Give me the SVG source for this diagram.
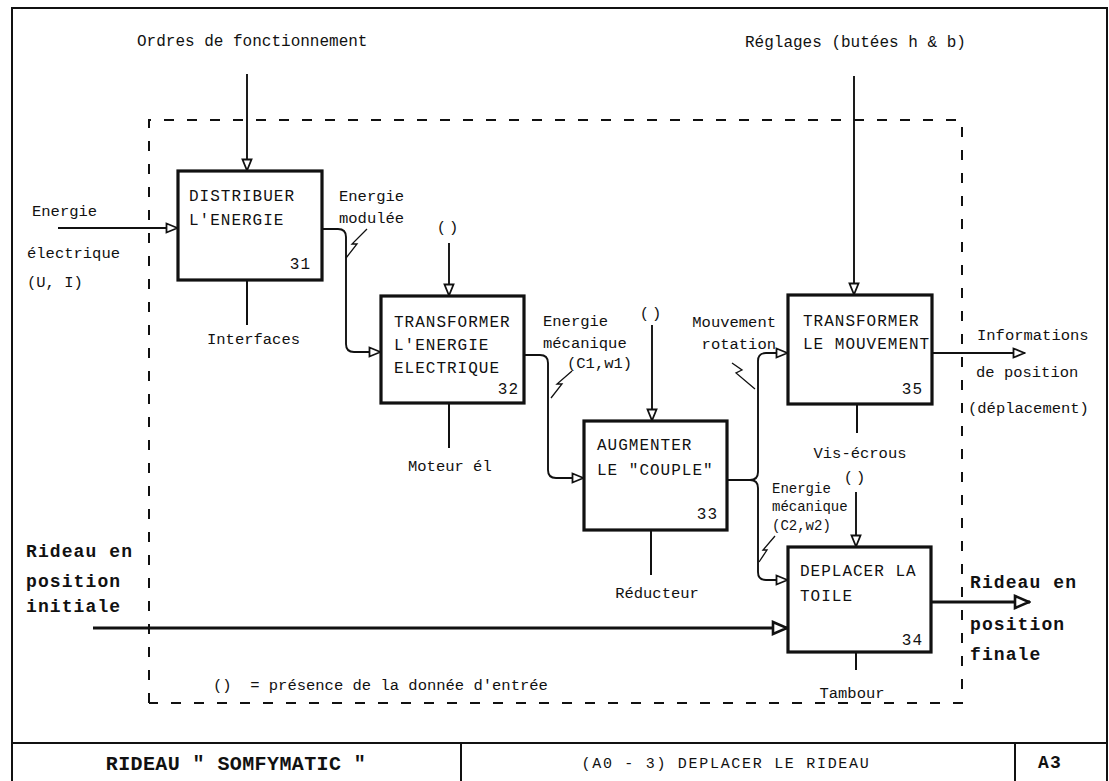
<svg xmlns="http://www.w3.org/2000/svg" width="1109" height="781" viewBox="0 0 1109 781">
<defs>
<style>
text{font-family:"Liberation Mono","DejaVu Sans Mono",monospace;fill:#111;}
.t{font-size:16px;letter-spacing:1px;}
.l{font-size:15.5px;}
.s{font-size:14px;}
.b{font-size:18px;font-weight:bold;letter-spacing:1.1px;}
.box{fill:#fff;stroke:#111;stroke-width:3.2;}
.c{fill:none;stroke:#111;stroke-width:1.9;}
.ct{fill:none;stroke:#111;stroke-width:2.8;}
.m{fill:none;stroke:#111;stroke-width:2;}
.z{fill:none;stroke:#111;stroke-width:1.3;}
.end{text-anchor:end;}
.mid{text-anchor:middle;}
</style>
<marker id="a" markerUnits="userSpaceOnUse" markerWidth="14" markerHeight="12" viewBox="0 0 14 12" refX="13" refY="6" orient="auto">
<path d="M1.5,1.5 L12.5,6 L1.5,10.5 Z" fill="#fff" stroke="#111" stroke-width="1.8"/>
</marker>
<marker id="ab" markerUnits="userSpaceOnUse" markerWidth="18" markerHeight="16" viewBox="0 0 18 16" refX="17" refY="8" orient="auto">
<path d="M2,2 L16,8 L2,14 Z" fill="#fff" stroke="#111" stroke-width="2.6"/>
</marker>
</defs>
<rect width="1109" height="781" fill="#fff"/>
<g id="frame">
<rect x="12" y="8" width="1095" height="790" fill="none" stroke="#111" stroke-width="2"/>
<line x1="12" y1="743" x2="1107" y2="743" stroke="#111" stroke-width="2"/>
<line x1="461" y1="743" x2="461" y2="781" stroke="#111" stroke-width="2"/>
<line x1="1015" y1="743" x2="1015" y2="781" stroke="#111" stroke-width="2"/>
<path d="M149,703 V120 H962 V703 H149" fill="none" stroke="#111" stroke-width="2" stroke-dasharray="10 13"/>
</g>
<g id="connectors">
<path class="c" d="M247,74 V171" marker-end="url(#a)"/>
<path class="c" d="M854,76 V295" marker-end="url(#a)"/>
<path class="c" d="M58,228 H178" marker-end="url(#a)"/>
<path class="c" d="M322,229 H338 Q346,229 346,237 V344 Q346,352 354,352 H381" marker-end="url(#a)"/>
<path class="c" d="M449,243 V296" marker-end="url(#a)"/>
<path class="c" d="M524,355 H540 Q548,355 548,363 V470 Q548,478 556,478 H584" marker-end="url(#a)"/>
<path class="c" d="M652,325 V421" marker-end="url(#a)"/>
<path class="c" d="M727,480 H750 Q758,480 758,472 V361 Q758,353 766,353 H788" marker-end="url(#a)"/>
<path class="c" d="M750,480 Q758,480 758,488 V572 Q758,580 766,580 H788" marker-end="url(#a)"/>
<path class="c" d="M932,353 H1025" marker-end="url(#a)"/>
<path class="c" d="M856,492 V547" marker-end="url(#a)"/>
<path class="ct" d="M93,628 H788" marker-end="url(#ab)"/>
<path class="ct" d="M931,602 H1030" marker-end="url(#ab)"/>
<path class="m" d="M247,280 V325"/>
<path class="m" d="M449,403 V448"/>
<path class="m" d="M651,530 V575"/>
<path class="m" d="M857,404 V433"/>
<path class="m" d="M856,652 V670"/>
<polyline class="z" points="346,258 357,244 352,244 367,229"/>
<polyline class="z" points="551,398 562,384 557,384 572,371"/>
<polyline class="z" points="732,363 742,370 736,373 755,389"/>
<polyline class="z" points="759,562 767,550 763,550 775,536"/>
</g>
<g id="labels">
<text class="t" x="137" y="46" style="letter-spacing:0">Ordres de fonctionnement</text>
<text class="t" x="745" y="47" style="letter-spacing:0">Réglages (butées h &amp; b)</text>
<text class="l" x="32" y="216">Energie</text>
<text class="l" x="27" y="258">électrique</text>
<text class="l" x="27" y="287">(U, I)</text>
<text class="l" x="339" y="201">Energie</text>
<text class="l" x="339" y="223">modulée</text>
<text class="l" x="207" y="344">Interfaces</text>
<text class="l mid" x="449" y="232" style="letter-spacing:3px">()</text>
<text class="l" x="408" y="471">Moteur él</text>
<text class="l" x="543" y="326">Energie</text>
<text class="l" x="543" y="348">mécanique</text>
<text class="l" x="567" y="368">(C1,w1)</text>
<text class="l mid" x="652" y="318" style="letter-spacing:3px">()</text>
<text class="l end" x="776" y="327">Mouvement</text>
<text class="l end" x="776" y="349">rotation</text>
<text class="l mid" x="657" y="598">Réducteur</text>
<text class="l" x="977" y="340">Informations</text>
<text class="l" x="976" y="377">de position</text>
<text class="l" x="968" y="413">(déplacement)</text>
<text class="l mid" x="860" y="458">Vis-écrous</text>
<text class="l mid" x="856" y="482" style="letter-spacing:3px">()</text>
<text class="s" x="772" y="493">Energie</text>
<text class="s" x="772" y="511">mécanique</text>
<text class="s" x="772" y="530">(C2,w2)</text>
<text class="l mid" x="852" y="698">Tambour</text>
<text class="b" x="970" y="588">Rideau en</text>
<text class="b" x="970" y="630">position</text>
<text class="b" x="970" y="660">finale</text>
<text class="b" x="26" y="557">Rideau en</text>
<text class="b" x="26" y="587">position</text>
<text class="b" x="26" y="612">initiale</text>
<text class="l" x="213" y="690" xml:space="preserve">()  = présence de la donnée d'entrée</text>
<text class="b" x="236" y="770" style="font-size:20px;letter-spacing:0.4px;text-anchor:middle">RIDEAU " SOMFYMATIC "</text>
<text class="t" x="726" y="768" style="text-anchor:middle;font-size:15px;letter-spacing:1.7px">(A0 - 3) DEPLACER LE RIDEAU</text>
<text class="b" x="1038" y="768">A3</text>
</g>
<g id="n31">
<rect class="box" x="178" y="171" width="144" height="109"/>
<text class="t" x="189" y="201">DISTRIBUER</text>
<text class="t" x="189" y="225">L'ENERGIE</text>
<text class="t end" x="311" y="269">31</text>
</g>
<g id="n32">
<rect class="box" x="381" y="296" width="143" height="107"/>
<text class="t" x="394" y="327">TRANSFORMER</text>
<text class="t" x="394" y="350">L'ENERGIE</text>
<text class="t" x="394" y="373">ELECTRIQUE</text>
<text class="t end" x="519" y="394">32</text>
</g>
<g id="n33">
<rect class="box" x="584" y="421" width="143" height="109"/>
<text class="t" x="597" y="450">AUGMENTER</text>
<text class="t" x="597" y="475">LE "COUPLE"</text>
<text class="t end" x="718" y="519">33</text>
</g>
<g id="n35">
<rect class="box" x="788" y="295" width="144" height="109"/>
<text class="t" x="803" y="326">TRANSFORMER</text>
<text class="t" x="803" y="349">LE MOUVEMENT</text>
<text class="t end" x="923" y="394">35</text>
</g>
<g id="n34">
<rect class="box" x="788" y="547" width="143" height="105"/>
<text class="t" x="800" y="576">DEPLACER LA</text>
<text class="t" x="800" y="601">TOILE</text>
<text class="t end" x="923" y="645">34</text>
</g>
</svg>
